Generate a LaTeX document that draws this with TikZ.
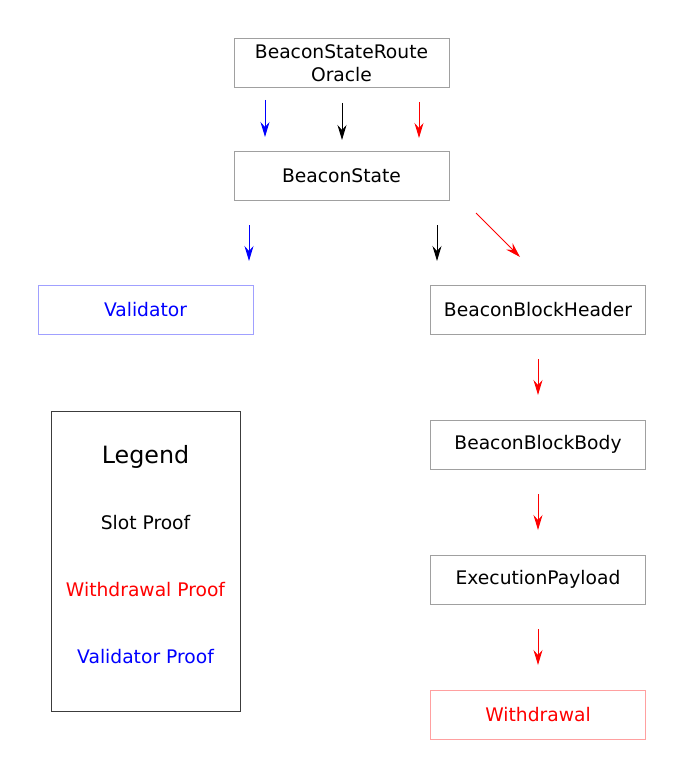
\documentclass[tikz,border=0pt]{standalone}
\usepackage{fontspec}
\setmainfont{DejaVu Sans}
\usetikzlibrary{arrows.meta}
\definecolor{boxgray}{RGB}{160,160,160}
\definecolor{lightblue}{RGB}{160,160,255}
\definecolor{lightred}{RGB}{255,160,160}
\definecolor{legendgray}{RGB}{60,60,60}
\tikzset{
  container/.style={draw=boxgray, minimum width=215, minimum height=49, inner sep=0pt,
    font=\fontsize{18.7}{22.5}\selectfont, align=center},
  proof/.style={-{Stealth[length=15, width=9, inset=5]}, line width=1},
  legendtext/.style={font=\fontsize{18.7}{22}\selectfont}
}
\begin{document}
\begin{tikzpicture}[x=1pt, y=-1pt]
\useasboundingbox (0,0) rectangle (684,778);

% Containers
\node[container] (oracle) at (341.5, 63) {BeaconStateRoute\\Oracle};
\node[container] (state) at (341.5, 175.5) {BeaconState};
\node[container, draw=lightblue, text=blue] (validator) at (145.5, 310) {Validator};
\node[container] (header) at (538, 310) {BeaconBlockHeader};
\node[container] (body) at (538, 444.5) {BeaconBlockBody};
\node[container] (payload) at (538, 579.5) {ExecutionPayload};
\node[container, draw=lightred, text=red] (withdrawal) at (538, 714.5) {Withdrawal};

% Legend
\node[draw=legendgray, minimum width=189, minimum height=300, inner sep=0pt] (legend) at (145.5, 561) {};
\node[font=\fontsize{23.8}{28}\selectfont] (legendtitle) at (145.5, 457) {Legend};
\node[legendtext] (slot) at (145.5, 523) {Slot Proof};
\node[legendtext, text=red] (wproof) at (145.5, 590) {Withdrawal Proof};
\node[legendtext, text=blue] (vproof) at (145.5, 657) {Validator Proof};

% Arrow end points
\coordinate (b1s) at (265, 100);  \coordinate (b1e) at (265, 137);
\coordinate (k1s) at (342, 103);  \coordinate (k1e) at (342, 140);
\coordinate (r1s) at (419, 102);  \coordinate (r1e) at (419, 138);
\coordinate (b2s) at (249, 225);  \coordinate (b2e) at (249, 261);
\coordinate (k2s) at (437, 225);  \coordinate (k2e) at (437, 261);
\coordinate (r2s) at (476, 213);  \coordinate (r2e) at (520, 257);
\coordinate (r3s) at (538, 359);  \coordinate (r3e) at (538, 395);
\coordinate (r4s) at (538, 494);  \coordinate (r4e) at (538, 530);
\coordinate (r5s) at (538, 629);  \coordinate (r5e) at (538, 665);

% Oracle to BeaconState
\draw[proof, blue] (b1s) -- (b1e);
\draw[proof, black] (k1s) -- (k1e);
\draw[proof, red] (r1s) -- (r1e);

% BeaconState to Validator and BeaconBlockHeader
\draw[proof, blue] (b2s) -- (b2e);
\draw[proof, black] (k2s) -- (k2e);
\draw[proof, red] (r2s) -- (r2e);

% Withdrawal proof chain
\draw[proof, red] (r3s) -- (r3e);
\draw[proof, red] (r4s) -- (r4e);
\draw[proof, red] (r5s) -- (r5e);
\end{tikzpicture}
\end{document}
